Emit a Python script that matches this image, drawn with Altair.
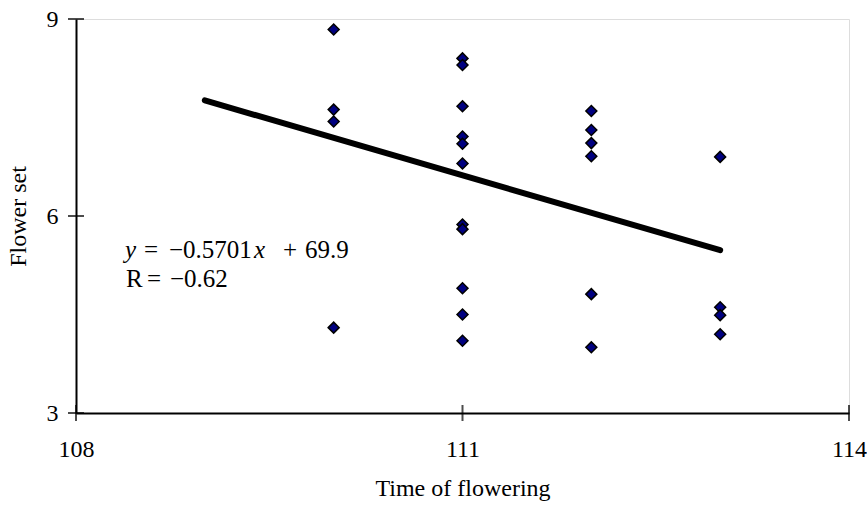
import altair as alt
import pandas as pd

# Data
x_110 = [8.84, 7.62, 7.44, 4.30]
x_111 = [8.40, 8.30, 7.67, 7.21, 7.10, 6.80, 5.87, 5.80, 4.90, 4.50, 4.10]
x_112 = [7.60, 7.31, 7.11, 6.91, 4.81, 4.00]
x_113 = [6.90, 4.61, 4.49, 4.20]

trend_x = [109, 113]
trend_y = [7.76, 5.48]

x_ticks = [108, 111, 114]
y_ticks = [3, 6, 9]

rows = []
for xv, ys in [(110, x_110), (111, x_111), (112, x_112), (113, x_113)]:
    for yv in ys:
        rows.append({"t": xv, "f": yv})
pts = pd.DataFrame(rows)
trend = pd.DataFrame({"t": trend_x, "f": trend_y})

FONT = "Liberation Serif"
FS = 24
EFS = 25

xs = alt.Scale(domain=[108, 114], nice=False, zero=False)
ys = alt.Scale(domain=[3, 9], nice=False, zero=False)

xaxis = alt.Axis(values=x_ticks, format="d", ticks=False, grid=False, domainColor="black",
                 domainWidth=2, labelFont=FONT, labelFontSize=FS, labelColor="black",
                 labelPadding=24, title="Time of flowering", titleFont=FONT,
                 titleFontSize=FS, titleFontWeight="normal", titleColor="black",
                 titleY=75, titleBaseline="middle", labelFlush=False)
yaxis = alt.Axis(values=y_ticks, format="d", ticks=False, grid=False, domainColor="black",
                 domainWidth=2, labelFont=FONT, labelFontSize=FS, labelColor="black",
                 labelPadding=18, title="Flower set", titleFont=FONT,
                 titleFontSize=FS, titleFontWeight="normal", titleColor="black",
                 titleX=-58, titleBaseline="middle", titleAngle=-90, labelFlush=False)

points = alt.Chart(pts).mark_point(
    shape="diamond", filled=True, fill="#000080", stroke="black",
    strokeWidth=1.5, size=120, opacity=1
).encode(
    x=alt.X("t:Q", scale=xs, axis=xaxis),
    y=alt.Y("f:Q", scale=ys, axis=yaxis),
)

line = alt.Chart(trend).mark_line(color="black", strokeWidth=6, strokeCap="round").encode(
    x=alt.X("t:Q", scale=xs), y=alt.Y("f:Q", scale=ys)
)

xt = pd.DataFrame({"t": x_ticks, "f": [3] * len(x_ticks)})
yt = pd.DataFrame({"t": [108] * len(y_ticks), "f": y_ticks})
xtick_marks = alt.Chart(xt).mark_tick(orient="vertical", size=16, thickness=2, color="black").encode(
    x=alt.X("t:Q", scale=xs), y=alt.Y("f:Q", scale=ys))
ytick_marks = alt.Chart(yt).mark_tick(orient="horizontal", size=16, thickness=2, color="black").encode(
    x=alt.X("t:Q", scale=xs), y=alt.Y("f:Q", scale=ys))

def txt(s, px, py, italic=False):
    return alt.Chart(pd.DataFrame({"s": [s]})).mark_text(
        font=FONT, fontSize=EFS, fontStyle="italic" if italic else "normal",
        align="left", baseline="alphabetic", color="black"
    ).encode(text="s:N", x=alt.value(px - 76), y=alt.value(py - 19))

eq_y = 258
r_y = 287
ann = (txt("y", 125, eq_y, True) + txt("=", 144, eq_y) + txt("\u22120.5701", 169, eq_y)
       + txt("x", 254, eq_y, True) + txt("+", 283, eq_y) + txt("69.9", 305, eq_y)
       + txt("R", 126, r_y) + txt("=", 147, r_y) + txt("\u22120.62", 170, r_y))

chart = alt.layer(line, points, xtick_marks, ytick_marks, ann).properties(
    width=773, height=394,
    autosize=alt.AutoSizeParams(type="none"),
    padding={"left": 76, "top": 19, "right": 18, "bottom": 93},
).configure_view(stroke=None).configure(background="white")

chart.save("out.html", embed_options={"renderer": "svg", "actions": False})
